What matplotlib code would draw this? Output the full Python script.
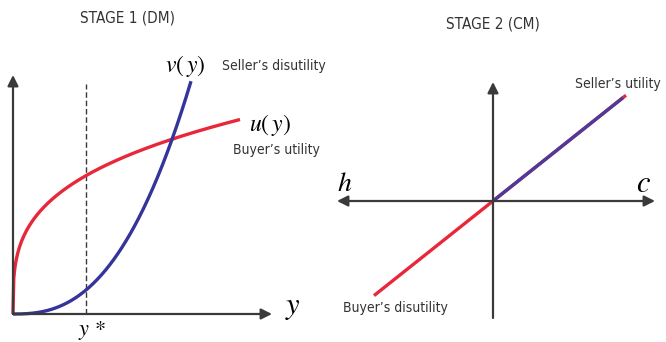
import numpy as np
import matplotlib.pyplot as plt

# Stage 1 (DM): buyer's utility u(y) and seller's disutility v(y)
u_scale, u_power = 38.2, 0.30       # u(y) = u_scale * y**u_power
v_scale, v_power = 0.000425, 2.55   # v(y) = v_scale * y**v_power
u_end, v_end = 227, 178             # where each curve stops on the y axis
y_star = 73

# Stage 2 (CM): linear utility in c, linear disutility in h
cm_slope = 0.795
buyer_h_end = -119
seller_c_end = 133

red = '#e8283a'
blue = '#34349a'
purple = '#4e3a98'
axis_col = '#3a3a3a'
txt_col = '#333333'
label_font = ['DejaVu Sans']

plt.rcParams['mathtext.fontset'] = 'stix'

fig = plt.figure(figsize=(6.66, 3.42), dpi=100)

# left panel, units are roughly pixels measured from the origin
ax1 = fig.add_axes([0, 0, 0.5, 1])
ax1.set_xlim(-13, 320)
ax1.set_ylim(-28, 314)
ax1.axis('off')

arrow = dict(arrowstyle='-|>', color=axis_col, lw=1.6, mutation_scale=16,
             shrinkA=0, shrinkB=0)
ax1.annotate('', xy=(0, 239), xytext=(0, 0), arrowprops=arrow)
ax1.annotate('', xy=(259, 0), xytext=(0, 0), arrowprops=arrow)
ax1.plot([y_star, y_star], [0, 230], color=axis_col, lw=1.0, ls=(0, (4, 2)))

yu = np.linspace(0, u_end, 300)
yv = np.linspace(0, v_end, 300)
ax1.plot(yu, u_scale * yu ** u_power, color=red, lw=2.4, solid_capstyle='butt')
ax1.plot(yv, v_scale * yv ** v_power, color=blue, lw=2.4, solid_capstyle='butt')

lab = dict(family=label_font, fontstretch='condensed', color=txt_col, va='center')
ax1.text(115, 296, 'STAGE 1 (DM)', fontsize=11, ha='center', **lab)
ax1.text(152, 248, r'$v(\,y)$', fontsize=17, ha='left', va='center')
ax1.text(209, 248, "Seller’s disutility", fontsize=10, ha='left', **lab)
ax1.text(236, 189, r'$u(\,y)$', fontsize=17, ha='left', va='center')
ax1.text(220, 164, "Buyer’s utility", fontsize=10, ha='left', **lab)
ax1.text(272, 6, r'$y$', fontsize=22, ha='left', va='center')
ax1.text(y_star - 8, -16, r'$y\,*$', fontsize=16, ha='left', va='center')

# right panel, origin in the middle
ax2 = fig.add_axes([0.5, 0, 0.5, 1])
ax2.set_xlim(-160, 173)
ax2.set_ylim(-141, 201)
ax2.axis('off')

ax2.annotate('', xy=(0, 119), xytext=(0, -117), arrowprops=arrow)
ax2.annotate('', xy=(162, 0), xytext=(-156, 0),
             arrowprops=dict(arrow, arrowstyle='<|-|>'))

ax2.plot([buyer_h_end, seller_c_end],
         [cm_slope * buyer_h_end, cm_slope * seller_c_end],
         color=red, lw=2.4, solid_capstyle='butt')
ax2.plot([0, seller_c_end - 3], [0, cm_slope * (seller_c_end - 3)],
         color=purple, lw=2.4, solid_capstyle='butt')

ax2.text(0, 177, 'STAGE 2 (CM)', fontsize=11, ha='center', **lab)
ax2.text(168, 117, "Seller’s utility", fontsize=10, ha='right', **lab)
ax2.text(-150, -107, "Buyer’s disutility", fontsize=10, ha='left', **lab)
ax2.text(-156, 18, r'$h$', fontsize=20, ha='left', va='center')
ax2.text(143, 18, r'$c$', fontsize=22, ha='left', va='center')

fig.savefig('out.png', dpi=100)
